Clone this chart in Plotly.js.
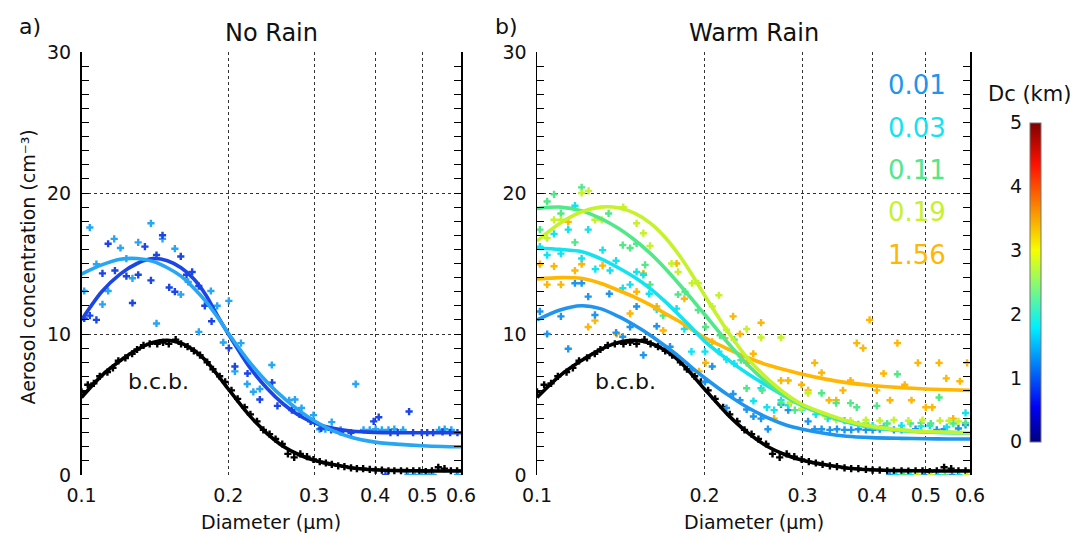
<!DOCTYPE html>
<html>
<head>
<meta charset="utf-8">
<script src="https://cdn.plot.ly/plotly-3.0.1.min.js"></script>
<style>html,body{margin:0;padding:0;background:#fff}#chart{width:1087px;height:533px}</style>
</head>
<body>
<div id="chart"></div>
<script>
// ---------------- data ----------------
const xTicks = [0.1, 0.2, 0.3, 0.4, 0.5, 0.6];
const xTickText = ['0.1', '0.2', '0.3', '0.4', '0.5', '0.6'];
const yTicks = [0, 10, 20, 30];
const cbTicks = [0, 1, 2, 3, 4, 5];
const panelTitles = ['No Rain', 'Warm Rain'];
const panelLetters = ['a)', 'b)'];
const dcLabels = ['0.01', '0.03', '0.11', '0.19', '1.56'];

// diameters at which the fitted curves were read
const dFit = [0.10,0.11,0.12,0.13,0.14,0.15,0.16,0.17,0.18,0.19,0.20,0.22,0.24,0.26,0.28,0.30,0.33,0.36,0.40,0.45,0.50,0.55,0.60];
// fitted curves
const bcbFit         = [5.5,7.05,8.1,8.9,9.4,9.55,9.35,8.85,8.1,7.1,6.1,4.3,2.95,2.0,1.42,1.05,0.72,0.5,0.37,0.31,0.29,0.28,0.28];
const noRainDarkFit  = [11.0,13.0,14.25,15.0,15.35,15.2,14.7,13.9,12.75,11.3,10.0,7.75,6.15,5.0,4.2,3.7,3.3,3.1,3.02,3.0,3.0,3.0,3.0];
const noRainLightFit = [14.25,14.9,15.3,15.35,15.15,14.7,14.1,13.25,12.3,11.2,10.05,8.1,6.6,5.45,4.55,3.85,3.1,2.65,2.33,2.17,2.07,2.02,2.0];
const warm001Fit = [11.0,11.7,12.0,11.8,11.25,10.6,9.9,9.15,8.4,7.6,6.9,5.7,4.75,4.05,3.55,3.25,2.95,2.75,2.65,2.6,2.57,2.55,2.55];
const warm003Fit = [16.1,16.0,15.85,15.35,14.7,14.0,13.2,12.3,11.35,10.4,9.5,8.2,7.15,6.3,5.55,4.95,4.25,3.75,3.35,3.15,3.05,3.0,3.0];
const warm011Fit = [18.9,19.0,18.75,18.2,17.5,16.65,15.7,14.65,13.55,12.45,11.4,9.4,7.75,6.5,5.55,4.9,4.25,3.8,3.4,3.18,3.07,3.02,3.0];
const warm019Fit = [16.6,17.85,18.65,19.0,18.95,18.55,17.85,16.85,15.6,14.2,12.75,10.2,8.2,6.8,5.75,5.0,4.35,3.85,3.45,3.2,3.08,3.03,3.0];
const warm156Fit = [13.9,14.0,13.95,13.6,13.1,12.6,12.05,11.45,10.9,10.3,9.75,8.95,8.3,7.8,7.45,7.15,6.8,6.55,6.35,6.2,6.1,6.05,6.0];

// below-cloud-base (b.c.b.) observations
const bcbD = [0.100,0.103,0.106,0.109,0.113,0.116,0.119,0.123,0.127,0.130,0.134,0.138,0.143,0.147,0.151,0.156,0.160,0.165,0.170,0.175,0.181,0.186,0.192,0.197,0.203,0.209,0.216,0.222,0.229,0.236,0.243,0.250,0.258,0.265,0.273,0.281,0.290,0.299,0.308,0.317,0.326,0.336,0.346,0.357,0.367,0.378,0.390,0.401,0.413,0.426,0.438,0.452,0.465,0.479,0.493,0.508,0.523,0.539,0.555,0.572,0.589];
const bcbC = [5.9,6.4,6.5,7.0,7.3,7.6,8.1,8.3,8.6,8.9,9.2,9.3,9.3,9.4,9.3,9.6,9.3,9.1,8.8,8.5,8.0,7.5,7.0,6.6,6.0,5.4,4.8,4.3,3.8,3.2,2.9,2.55,2.2,1.5,1.25,1.5,1.3,1.1,0.95,0.85,0.75,0.65,0.6,0.5,0.45,0.45,0.4,0.35,0.35,0.3,0.3,0.3,0.28,0.3,0.3,0.25,0.3,0.55,0.45,0.3,0.3];

// No Rain observations
const noRainDarkD = [0.1013,0.1040,0.1073,0.1104,0.1134,0.1171,0.1236,0.1272,0.1307,0.1349,0.1388,0.1425,0.1466,0.1513,0.1554,0.1598,0.1642,0.1686,0.1740,0.1790,0.1848,0.2005,0.2063,0.2190,0.2321,0.2459,0.2522,0.2700,0.2800,0.2950,0.3100,0.3250,0.3400,0.3570,0.3973,0.4069,0.4200,0.4300,0.4450,0.4696,0.4786,0.4985,0.5116,0.5260,0.5500,0.5700,0.5900];
const noRainDarkC = [11.1,11.3,11.0,14.3,16.4,14.5,14.1,12.2,14.2,16.2,13.8,15.6,17.0,13.3,13.0,15.5,14.2,14.4,13.4,12.0,10.9,9.0,7.7,7.2,5.35,6.55,4.9,4.6,4.3,3.8,3.3,3.2,3.05,3.0,3.8,4.1,0,3.0,3.0,4.5,3.0,3.0,3.0,3.0,3.05,3.0,3.0];
const noRainLightD = [0.1013,0.1040,0.1073,0.1104,0.1134,0.1167,0.1202,0.1236,0.1272,0.1307,0.1388,0.1425,0.1466,0.1554,0.1598,0.1655,0.1740,0.1842,0.1898,0.1953,0.2005,0.2063,0.2123,0.2187,0.2251,0.2321,0.2456,0.2666,0.2739,0.2826,0.2990,0.3077,0.3162,0.3259,0.3400,0.3650,0.3787,0.3900,0.4010,0.4130,0.4260,0.4380,0.4565,0.4668,0.4822,0.4985,0.5152,0.5260,0.5413,0.5555,0.5733,0.5900];
const noRainLightC = [13.05,17.55,14.95,12.1,13.05,16.75,16.1,15.35,13.95,16.5,17.85,10.75,16.75,16.05,12.8,13.7,10.15,13.05,12.0,9.4,12.35,7.35,9.35,6.45,5.9,6.1,7.8,5.3,5.35,4.75,4.25,3.25,3.25,3.75,3.2,6.45,3.2,3.2,3.25,3.2,3.2,3.25,3.2,0,0,0,0,0,3.2,3.25,3.2,0];

// Warm Rain observations (one series per Dc label)
const warm001D = [0.1012,0.1043,0.1104,0.1138,0.1170,0.1203,0.1236,0.1271,0.1349,0.1387,0.1426,0.1470,0.1510,0.1553,0.1641,0.1734,0.1782,0.1895,0.2004,0.2065,0.2190,0.2251,0.2316,0.2381,0.2449,0.2527,0.2600,0.2745,0.2828,0.3070,0.3155,0.3247,0.336,0.346,0.357,0.367,0.378,0.390,0.401,0.413,0.4303,0.438,0.452,0.479,0.4963,0.523,0.539,0.557,0.572,0.589];
const warm001C = [11.6,10.0,11.25,8.95,13.6,13.6,12.65,11.35,12.85,10.1,9.8,10.5,11.95,8.5,10.55,9.1,8.4,7.45,6.6,7.7,4.75,5.75,5.3,4.65,4.15,4.0,3.25,5.0,4.6,3.8,3.25,3.25,3.2,3.25,3.2,3.2,3.25,3.2,3.2,3.25,0,3.2,3.2,3.25,0,3.2,3.25,0,3.3,3.55];
const warm003D = [0.1012,0.1043,0.1073,0.1104,0.1138,0.1170,0.1203,0.1236,0.1273,0.1312,0.1353,0.1387,0.1426,0.1470,0.1510,0.1553,0.1591,0.1641,0.1782,0.1840,0.1895,0.2004,0.2122,0.2190,0.2262,0.2449,0.2527,0.2589,0.2668,0.2745,0.2828,0.2994,0.317,0.333,0.357,0.378,0.401,0.420,0.4421,0.452,0.469,0.490,0.508,0.5254,0.545,0.5735,0.589];
const warm003C = [16.2,15.6,17.1,15.7,17.4,19.1,15.35,17.4,14.6,15.95,14.5,15.2,13.25,13.5,14.4,14.2,12.85,11.75,11.8,10.35,8.75,8.75,8.75,8.2,7.9,5.25,6.15,4.8,4.6,5.3,4.95,4.65,4.3,4.0,3.85,3.6,3.5,3.45,0,3.5,0,3.45,3.5,0,3.4,0,4.4];
const warm011D = [0.1012,0.1043,0.1073,0.1104,0.1170,0.1203,0.1345,0.1426,0.1470,0.1510,0.1564,0.1596,0.1686,0.1793,0.1845,0.1949,0.2009,0.2133,0.2262,0.2325,0.2381,0.2540,0.2745,0.2906,0.3247,0.3449,0.366,0.3755,0.390,0.408,0.426,0.4443,0.4561,0.469,0.490,0.510,0.528,0.541,0.560,0.589];
const warm011C = [17.4,19.4,19.9,18.55,16.5,20.4,18.55,16.3,16.1,16.4,14.9,13.5,11.3,12.8,13.0,11.7,10.5,9.9,9.6,8.15,6.15,6.0,5.1,4.6,5.8,5.1,5.1,4.8,3.65,4.9,3.65,7.15,0,3.65,3.7,3.65,5.5,0,3.65,3.7];
const warm019D = [0.1043,0.1073,0.1104,0.1203,0.1238,0.1271,0.1307,0.1429,0.1510,0.1553,0.1596,0.1745,0.1793,0.1900,0.1949,0.2065,0.2122,0.2190,0.2381,0.2527,0.2745,0.2849,0.2988,0.3070,0.330,0.345,0.366,0.390,0.413,0.438,0.465,0.4822,0.493,0.5106,0.530,0.550,0.572,0.5928];
const warm019C = [16.8,18.1,18.1,20.0,20.15,18.1,18.1,19.0,17.85,17.15,16.25,15.0,14.4,13.6,13.6,11.95,12.75,10.3,10.35,9.75,9.75,5.1,4.7,5.8,4.2,3.9,3.85,3.9,3.85,3.9,3.85,0,3.9,0,3.85,3.85,3.8,0];
const warm156D = [0.1012,0.1043,0.1073,0.1104,0.1138,0.1170,0.1203,0.1236,0.1271,0.1312,0.1391,0.1470,0.1510,0.1553,0.1641,0.1686,0.1782,0.1840,0.1895,0.1955,0.2009,0.2065,0.2176,0.2251,0.2316,0.2381,0.2447,0.2527,0.2668,0.2745,0.2828,0.2988,0.3070,0.3155,0.3247,0.3349,0.3449,0.3547,0.3660,0.3755,0.3855,0.3960,0.4080,0.4197,0.4310,0.4443,0.4580,0.4710,0.4837,0.4997,0.5133,0.5280,0.5439,0.5597,0.5755,0.5928];
const warm156C = [14.95,13.5,14.8,13.5,17.95,14.5,14.95,10.5,10.95,14.85,10.0,11.45,13.0,14.3,11.95,10.25,15.0,12.5,7.35,7.35,7.95,9.45,9.7,11.25,10.0,7.95,8.6,10.8,4.0,6.7,6.7,6.4,6.0,7.95,7.25,5.3,5.3,6.0,6.7,9.35,9.0,11.0,6.0,7.2,5.3,9.35,6.4,5.3,7.95,4.8,4.8,7.95,6.85,4.0,6.65,7.95];

// ---------------- styling ----------------
const W = 1087, H = 533;
const px = v => v / W;
const py = v => 1 - v / H;
const FONT = 'DejaVu Sans, Liberation Sans, sans-serif';
const TXT = '#111';
const colDark = '#1c45e6', colLight = '#27a6f3';
const dcColors = ['#1f95ee', '#12e3ef', '#52e889', '#c6f22c', '#ffb703'];
const jet = [[0,'#00007f'],[0.11,'#0000f5'],[0.36,'#00f0ff'],[0.6,'#f5ff00'],[0.87,'#ff1000'],[1,'#800000']];

function pts(x, y, color, xa, ya) {
  return {type:'scatter', mode:'markers', x:x, y:y, xaxis:xa, yaxis:ya, hoverinfo:'skip',
    marker:{symbol:'cross', size:6, color:color, line:{width:0}}};
}
function curve(y, color, xa, ya) {
  return {type:'scatter', mode:'lines', x:dFit, y:y, xaxis:xa, yaxis:ya, hoverinfo:'skip',
    line:{color:color, width:3.6, shape:'spline', smoothing:0.8}};
}

const traces = [
  pts(bcbD, bcbC, '#000', 'x', 'y'),
  pts(noRainLightD, noRainLightC, colLight, 'x', 'y'),
  pts(noRainDarkD, noRainDarkC, colDark, 'x', 'y'),
  curve(bcbFit, '#000', 'x', 'y'),
  curve(noRainDarkFit, colDark, 'x', 'y'),
  curve(noRainLightFit, colLight, 'x', 'y'),

  pts(bcbD, bcbC, '#000', 'x2', 'y2'),
  pts(warm156D, warm156C, dcColors[4], 'x2', 'y2'),
  pts(warm001D, warm001C, dcColors[0], 'x2', 'y2'),
  pts(warm003D, warm003C, dcColors[1], 'x2', 'y2'),
  pts(warm011D, warm011C, dcColors[2], 'x2', 'y2'),
  pts(warm019D, warm019C, dcColors[3], 'x2', 'y2'),
  curve(bcbFit, '#000', 'x2', 'y2'),
  curve(warm001Fit, dcColors[0], 'x2', 'y2'),
  curve(warm156Fit, dcColors[4], 'x2', 'y2'),
  curve(warm003Fit, dcColors[1], 'x2', 'y2'),
  curve(warm011Fit, dcColors[2], 'x2', 'y2'),
  curve(warm019Fit, dcColors[3], 'x2', 'y2'),

  // colour bar carrier
  {type:'scatter', mode:'markers', x:cbTicks.map(() => 0.5), y:cbTicks.map(() => -1), xaxis:'x3', yaxis:'y3', hoverinfo:'skip',
   marker:{color:cbTicks, cmin:cbTicks[0], cmax:cbTicks[cbTicks.length-1], colorscale:jet, showscale:true, size:1,
     colorbar:{x:px(1030), xanchor:'left', xpad:0, ypad:0, thickness:11, thicknessmode:'pixels',
       y:py(441.7), yanchor:'bottom', len:(441.7-122.7)/H, lenmode:'fraction',
       showticklabels:false, ticks:'', outlinewidth:1, outlinecolor:'#777'}}}
];

const yDom = [py(475), py(52)];
function xAxis(l, r, anchor) {
  return {type:'log', domain:[px(l), px(r)], range:[Math.log10(xTicks[0]), Math.log10(xTicks[xTicks.length-1])],
    tickmode:'array', tickvals:xTicks, ticktext:xTickText, anchor:anchor,
    showgrid:true, gridcolor:'#333', griddash:'dot', gridwidth:1,
    showline:false, zeroline:false, ticks:'outside', ticklen:3, tickcolor:'rgba(0,0,0,0)',
    tickfont:{size:19, color:TXT, family:FONT}, fixedrange:true};
}
function yAxis(anchor) {
  return {domain:yDom, range:[yTicks[0], yTicks[yTicks.length-1]], tick0:0, dtick:10, anchor:anchor,
    showgrid:true, gridcolor:'#333', griddash:'dot', gridwidth:1,
    showline:true, linecolor:'#000', linewidth:1.5, mirror:'ticks',
    ticks:'inside', ticklen:7, tickcolor:'#000', tickwidth:1,
    minor:{dtick:1, tick0:0, ticks:'inside', ticklen:7, tickcolor:'#000', tickwidth:1, showgrid:false},
    zeroline:false, ticklabelstandoff:5,
    tickfont:{size:19, color:TXT, family:FONT}, fixedrange:true};
}

const ann = [];
function a(text, x, y, size, opts) {
  ann.push(Object.assign({text:text, x:px(x), y:py(y), xref:'paper', yref:'paper', showarrow:false,
    xanchor:'center', yanchor:'middle', font:{size:size, color:TXT, family:FONT}}, opts || {}));
}
a(panelLetters[0], 30, 27, 22);
a(panelLetters[1], 506, 27, 22);
a(panelTitles[0], 271, 33, 24);
a(panelTitles[1], 753.5, 33, 24);
a('Aerosol concentration (cm⁻³)', 27.5, 267, 19, {textangle:-90});
a('Diameter (μm)', 271, 522, 19);
a('Diameter (μm)', 753.5, 522, 19);
a('Dc (km)', 1029.5, 94, 21);
const labelY = [85, 128.3, 170, 211.7, 255];
dcLabels.forEach((t, i) => a(t, 948, labelY[i], 26, {xanchor:'right', font:{size:26, color:dcColors[i], family:FONT}}));
// b.c.b. labels placed in data coordinates
['x', 'x2'].forEach((xr, i) => {
  ann.push({text:'b.c.b.', x:Math.log10(0.144), y:6.6, xref:xr, yref:i ? 'y2' : 'y', showarrow:false,
    xanchor:'center', yanchor:'middle', font:{size:22, color:TXT, family:FONT}});
});

const layout = {
  width:W, height:H, margin:{l:0, r:0, t:0, b:0}, paper_bgcolor:'#fff', plot_bgcolor:'rgba(0,0,0,0)',
  showlegend:false, font:{family:FONT, color:TXT},
  xaxis:xAxis(81.5, 461, 'y'), yaxis:yAxis('x'),
  xaxis2:xAxis(537, 970, 'y2'), yaxis2:yAxis('x2'),
  xaxis3:{domain:[px(1030), px(1041)], range:[0,1], visible:false, anchor:'y3', fixedrange:true},
  yaxis3:{domain:[py(441.7), py(122.7)], range:[cbTicks[0], cbTicks[cbTicks.length-1]], anchor:'x3', side:'left',
    tickmode:'array', tickvals:cbTicks, showgrid:false, zeroline:false, showline:false, ticks:'',
    ticklabelstandoff:7, tickfont:{size:19, color:TXT, family:FONT}, fixedrange:true},
  annotations:ann
};

Plotly.newPlot('chart', traces, layout, {displayModeBar:false, staticPlot:true});
</script>
</body>
</html>
